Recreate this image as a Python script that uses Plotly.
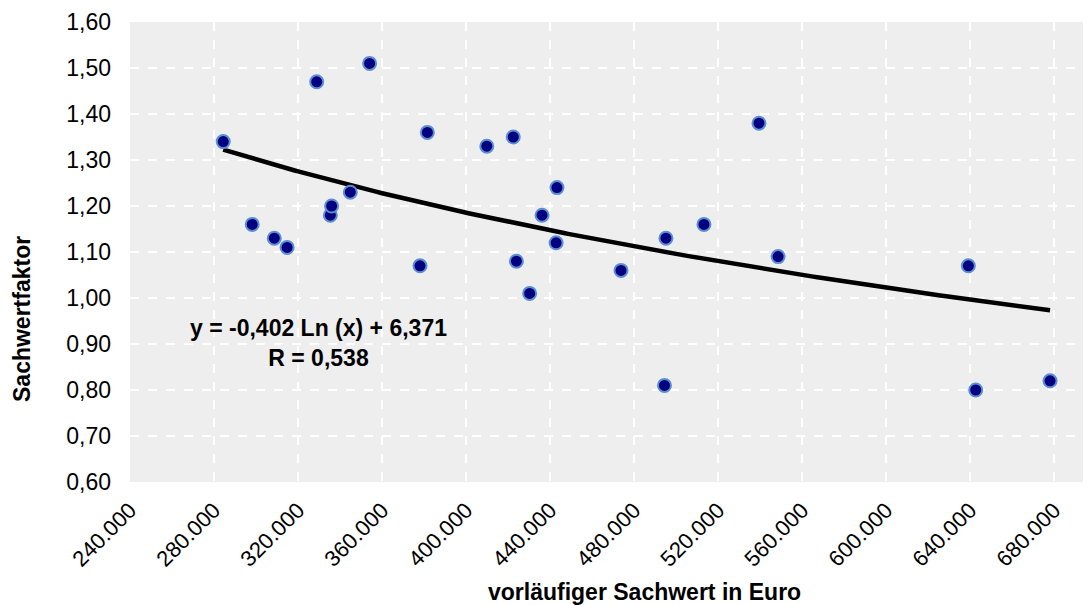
import numpy as np
import plotly.graph_objects as go

# Data
sachwert = [284400, 298200, 308700, 314800, 328900, 335400, 336000, 344900, 354100,
            378100, 381600, 409900, 422500, 424000, 430300, 436200, 443300, 442900,
            473800, 494500, 495200, 513300, 539500, 548600, 639200, 642700, 678100]
faktor = [1.34, 1.16, 1.13, 1.11, 1.47, 1.18, 1.20, 1.23, 1.51,
          1.07, 1.36, 1.33, 1.35, 1.08, 1.01, 1.18, 1.24, 1.12,
          1.06, 0.81, 1.13, 1.16, 1.38, 1.09, 1.07, 0.80, 0.82]

# Trendline coefficients as shown in the chart
trend_slope = -0.402
trend_intercept = 6.371
trend_text = "<b>y = -0,402 Ln (x) + 6,371<br>R = 0,538</b>"

x_ticks = [240000, 280000, 320000, 360000, 400000, 440000, 480000, 520000, 560000, 600000, 640000, 680000]
x_tick_labels = ["240.000", "280.000", "320.000", "360.000", "400.000", "440.000",
                 "480.000", "520.000", "560.000", "600.000", "640.000", "680.000"]
y_ticks = [0.6, 0.7, 0.8, 0.9, 1.0, 1.1, 1.2, 1.3, 1.4, 1.5, 1.6]
y_tick_labels = ["0,60", "0,70", "0,80", "0,90", "1,00", "1,10", "1,20", "1,30", "1,40", "1,50", "1,60"]

FONT = "Liberation Sans, Arial, sans-serif"

# page body has an 8px margin -> figure is drawn 8px right/down
OFF = 8
W, H = 1091 - OFF, 605 - OFF
L, R, T, B = 130 - OFF, 0, 22 - OFF, 123
pw, ph = W - L - R, H - T - B


def px2paper(px, py):
    return (px - OFF - L) / pw, (H - B - (py - OFF)) / ph


tx = np.linspace(min(sachwert), max(sachwert), 200)
ty = trend_slope * np.log(tx) + trend_intercept

fig = go.Figure()
fig.add_trace(go.Scatter(
    x=tx, y=ty, mode="lines",
    line=dict(color="black", width=4.5),
    hoverinfo="skip", showlegend=False,
))
fig.add_trace(go.Scatter(
    x=sachwert, y=faktor, mode="markers",
    marker=dict(size=13, color="#000080", line=dict(color="#5b8fd1", width=2)),
    showlegend=False,
))

ex, ey = px2paper(318, 343)
tx_, ty_ = px2paper(644, 592)
sx, sy = px2paper(22, 319)

fig.update_layout(
    width=W, height=H,
    margin=dict(l=L, r=R, t=T, b=B),
    paper_bgcolor="white",
    plot_bgcolor="#eeeeee",
    font=dict(family=FONT, size=22, color="black"),
    xaxis=dict(
        range=[240000, 697600],
        tickmode="array", tickvals=x_ticks, ticktext=x_tick_labels,
        tickangle=-45,
        showgrid=True, gridcolor="white", gridwidth=2, griddash="dash",
        zeroline=False, showline=False, ticks="",
        ticklabelstandoff=10,
        tickfont=dict(size=22),
    ),
    yaxis=dict(
        range=[0.6, 1.6],
        tickmode="array", tickvals=y_ticks, ticktext=y_tick_labels,
        showgrid=True, gridcolor="white", gridwidth=2, griddash="dash",
        zeroline=False, showline=False, ticks="",
        ticklabelstandoff=18,
        tickfont=dict(size=23),
    ),
    annotations=[
        dict(text=trend_text, x=ex, y=ey, xref="paper", yref="paper",
             xanchor="center", yanchor="middle",
             showarrow=False, font=dict(size=23, family=FONT, color="black"),
             align="center"),
        dict(text="<b>vorläufiger Sachwert in Euro</b>", x=tx_, y=ty_,
             xref="paper", yref="paper", xanchor="center", yanchor="middle",
             showarrow=False, font=dict(size=23, family=FONT, color="black")),
        dict(text="<b>Sachwertfaktor</b>", x=sx, y=sy, textangle=-90,
             xref="paper", yref="paper", xanchor="center", yanchor="middle",
             showarrow=False, font=dict(size=23, family=FONT, color="black")),
    ],
)

fig.write_html("out.html")
